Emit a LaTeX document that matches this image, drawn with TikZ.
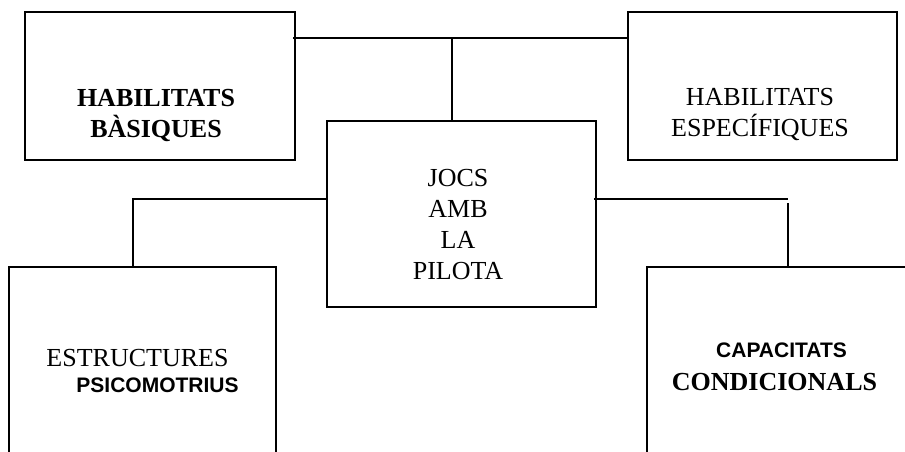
\documentclass[tikz,border=0pt]{standalone}
\usepackage{fontspec}
\setmainfont{Liberation Serif}
\newfontfamily\arialfont{Liberation Sans}
\tikzstyle{box}=[
	draw=black,
	shape=rectangle,
	line width=2pt,
	inner sep=0pt
]
\tikzstyle{txt}=[
	align=center,
	inner sep=0pt,
	font=\fontsize{26}{31}\selectfont
]
\tikzstyle{edge} = [draw,line width=2pt,-]
\newcommand{\sansb}[1]{{\arialfont\bfseries\fontsize{21}{25}\selectfont #1}}

\begin{document}
\begin{tikzpicture}[x=1pt,y=-1pt]
			\useasboundingbox (0,0) rectangle (905,451);
			\clip (0,0) rectangle (905,451);
			
			% boxes
			\node[box, minimum width=270pt, minimum height=148pt]	(HB)	at (160,86) {};
			\node[box, minimum width=269pt, minimum height=148pt]	(HE)	at (762.5,86) {};
			\node[box, minimum width=269pt, minimum height=186pt]	(JOCS)	at (461.5,214) {};
			\node[box, minimum width=267pt, minimum height=206pt]	(ES)	at (142.5,370) {};
			\node[box, minimum width=267pt, minimum height=206pt]	(CC)	at (780.5,370) {};
			
			% texts
			\node[txt]	(HBt)	at (156,115) {\bfseries HABILITATS\\\bfseries BÀSIQUES};
			\node[txt]	(HEt)	at (760,114) {HABILITATS\\ESPECÍFIQUES};
			\node[txt]	(JOCSt)	at (458,225) {JOCS\\AMB\\LA\\PILOTA};
			\node[txt]	(ESt)	at (147.5,370.5) {ESTRUCTURES\hspace*{20pt}\\[-5pt]\hspace*{20pt}\sansb{PSICOMOTRIUS}};
			\node[txt]	(CCt)	at (778,366.5) {\hspace*{7pt}\sansb{CAPACITATS}\\[2pt]\bfseries CONDICIONALS\hspace*{7pt}};
			
			% connectors
			\coordinate (t) at (452,38);
			\coordinate (l) at (133,199);
			\coordinate (r) at (788,199);
			
			\path[edge] 
				([xshift=-3pt]HB.east |- t) -- (HE.west |- t)
				(t) -- (t |- JOCS.north)
				(JOCS.west |- l) -- (l) -- (l |- ES.north)
				([xshift=-3pt]JOCS.east |- r) -- (r)
				([yshift=-4pt]r) -- (r |- CC.north);
			
			\end{tikzpicture}
\end{document}
